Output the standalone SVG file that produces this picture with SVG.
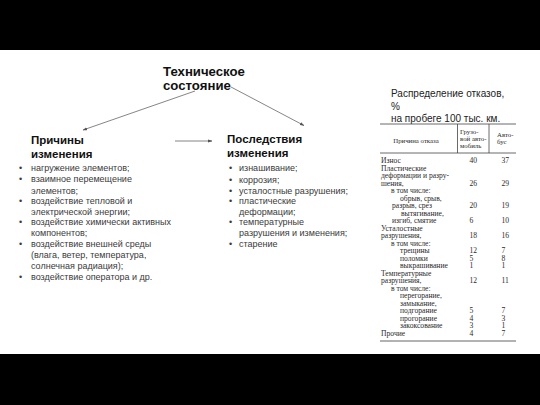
<svg xmlns="http://www.w3.org/2000/svg" width="540" height="405" viewBox="0 0 540 405">
<style>
.band{fill:#000}
.ttl{font-family:"Liberation Sans",Arial,sans-serif;font-weight:bold;font-size:13.2px;fill:#111}
.hd{font-family:"Liberation Sans",Arial,sans-serif;font-weight:bold;font-size:11.5px;fill:#111}
.bl{font-family:"Liberation Sans",Arial,sans-serif;font-size:9px;fill:#3a3a3a}
.cap{font-family:"Liberation Sans",Arial,sans-serif;font-size:10px;fill:#222}
.tb{font-family:"Liberation Serif","Times New Roman",serif;font-size:7.6px;fill:#2a2a2a}
.th{font-family:"Liberation Serif","Times New Roman",serif;font-size:6.8px;fill:#2a2a2a}
.rule{stroke:#444;stroke-width:0.8;fill:none}
.conn{stroke:#777;stroke-width:0.9;fill:none}
</style>
<defs>
<marker id="ah" viewBox="0 0 10 10" refX="9" refY="5" markerWidth="5" markerHeight="5" orient="auto">
<path d="M0,1.5 L10,5 L0,8.5 Z" fill="#555"/>
</marker>
</defs>
<rect width="540" height="405" fill="#fff"/>
<rect class="band" x="0" y="0" width="540" height="50"/>
<rect class="band" x="0" y="354" width="540" height="51"/>

<g id="connectors">
<line class="conn" x1="195" y1="91" x2="83" y2="130" marker-end="url(#ah)"/>
<line class="conn" x1="231" y1="87" x2="304" y2="125.5" marker-end="url(#ah)"/>
<line class="conn" x1="175" y1="141" x2="212" y2="141" marker-end="url(#ah)"/>
</g>

<g id="title">
<text class="ttl" x="163" y="76">Техническое</text>
<text class="ttl" x="163" y="90">состояние</text>
</g>

<g id="causes">
<text class="hd" x="31" y="144">Причины</text>
<text class="hd" x="31" y="158">изменения</text>
<g class="bl">
<text x="19" y="171">•</text><text x="31" y="171">нагружение элементов;</text>
<text x="19" y="182">•</text><text x="31" y="182">взаимное перемещение</text>
<text x="31" y="193.5">элементов;</text>
<text x="19" y="204">•</text><text x="31" y="204">воздействие тепловой и</text>
<text x="31" y="214.5">электрической энергии;</text>
<text x="19" y="225">•</text><text x="31" y="225">воздействие химически активных</text>
<text x="31" y="236">компонентов;</text>
<text x="19" y="247">•</text><text x="31" y="247">воздействие внешней среды</text>
<text x="31" y="258">(влага, ветер, температура,</text>
<text x="31" y="269">солнечная радиация);</text>
<text x="19" y="279.5">•</text><text x="31" y="279.5">воздействие оператора и др.</text>
</g>
</g>

<g id="consequences">
<text class="hd" x="227" y="143">Последствия</text>
<text class="hd" x="227" y="157">изменения</text>
<g class="bl">
<text x="229" y="171">•</text><text x="239" y="171">изнашивание;</text>
<text x="229" y="182.5">•</text><text x="239" y="182.5">коррозия;</text>
<text x="229" y="193.5">•</text><text x="239" y="193.5">усталостные разрушения;</text>
<text x="229" y="204">•</text><text x="239" y="204">пластические</text>
<text x="239" y="214.5">деформации;</text>
<text x="229" y="225">•</text><text x="239" y="225">температурные</text>
<text x="239" y="236">разрушения и изменения;</text>
<text x="229" y="246.5">•</text><text x="239" y="246.5">старение</text>
</g>
</g>

<g id="table-caption">
<text class="cap" x="391" y="96.5">Распределение отказов,</text>
<text class="cap" x="391" y="110">%</text>
<text class="cap" x="391" y="122">на пробеге 100 тыс. км.</text>
</g>

<g id="table">
<line class="rule" x1="380" y1="124" x2="516" y2="124"/>
<line class="rule" x1="380" y1="153" x2="516" y2="153"/>
<line class="rule" x1="457.5" y1="124" x2="457.5" y2="153"/>
<line class="rule" x1="489" y1="124" x2="489" y2="153"/>
<line x1="380" y1="341" x2="516" y2="341" stroke="#666" stroke-width="1.2"/>
<text class="th" x="416" y="143" text-anchor="middle">Причина отказа</text>
<text class="th" x="460" y="134">Грузо-</text>
<text class="th" x="460" y="141">вой авто-</text>
<text class="th" x="460" y="148">мобиль</text>
<text class="th" x="497" y="137">Авто-</text>
<text class="th" x="497" y="144">бус</text>
<g class="tb">
<text x="381" y="163">Износ</text><text x="469.5" y="163">40</text><text x="501.5" y="163">37</text>
<text x="381" y="170.5">Пластические</text>
<text x="381" y="178">деформации и разру-</text>
<text x="381" y="185.5">шения,</text><text x="469.5" y="185.5">26</text><text x="501.5" y="185.5">29</text>
<text x="391" y="193">в том числе:</text>
<text x="400" y="200.5">обрыв, срыв,</text>
<text x="392" y="208">разрыв, срез</text><text x="469.5" y="208">20</text><text x="501.5" y="208">19</text>
<text x="401" y="215.5">вытягивание,</text>
<text x="392" y="223">изгиб, смятие</text><text x="469.5" y="223">6</text><text x="501.5" y="223">10</text>
<text x="381" y="230.5">Усталостные</text>
<text x="381" y="238">разрушения,</text><text x="469.5" y="238">18</text><text x="501.5" y="238">16</text>
<text x="391" y="245.5">в том числе:</text>
<text x="400" y="253">трещины</text><text x="469.5" y="253">12</text><text x="501.5" y="253">7</text>
<text x="400" y="260.5">поломки</text><text x="469.5" y="260.5">5</text><text x="501.5" y="260.5">8</text>
<text x="400" y="268">выкрашивание</text><text x="469.5" y="268">1</text><text x="501.5" y="268">1</text>
<text x="381" y="275.5">Температурные</text>
<text x="381" y="283">разрушения,</text><text x="469.5" y="283">12</text><text x="501.5" y="283">11</text>
<text x="391" y="290.5">в том числе:</text>
<text x="400" y="298">перегорание,</text>
<text x="400" y="305.5">замыкание,</text>
<text x="400" y="313">подгорание</text><text x="469.5" y="313">5</text><text x="501.5" y="313">7</text>
<text x="400" y="320.5">прогорание</text><text x="469.5" y="320.5">4</text><text x="501.5" y="320.5">3</text>
<text x="400" y="328">закоксование</text><text x="469.5" y="328">3</text><text x="501.5" y="328">1</text>
<text x="381" y="335.5">Прочие</text><text x="469.5" y="335.5">4</text><text x="501.5" y="335.5">7</text>
</g>
</g>
</svg>
